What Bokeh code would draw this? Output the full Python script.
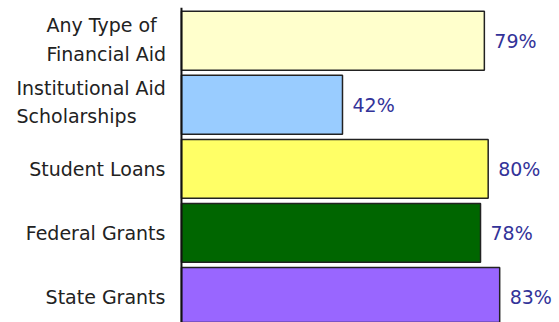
from bokeh.plotting import figure
from bokeh.models import ColumnDataSource, Range1d, Span
from bokeh.core.properties import value
from bokeh.embed import file_html
from bokeh.resources import INLINE

categories = ["Any Type of\nFinancial Aid", "Institutional Aid\nScholarships",
              "Student Loans", "Federal Grants", "State Grants"]
values = [79, 42, 80, 78, 83]
value_labels = ["79%", "42%", "80%", "78%", "83%"]
colors = ["#FFFFCC", "#99CCFF", "#FFFF66", "#006600", "#9966FF"]

# label styling: multi-line labels are left-aligned blocks, others right-aligned
block_left = {0: -135, 1: -165}
block_dy = {0: -1, 1: -3}

pos = list(range(len(categories)))
aligns = ["left" if "\n" in c else "right" for c in categories]
xoffs = [block_left.get(i, -16) for i in pos]
yoffs = [block_dy.get(i, 0) for i in pos]

src = ColumnDataSource(dict(y=pos, v=values, cat=categories, lab=value_labels,
                            color=colors, zero=[0] * len(pos),
                            align=aligns, xoff=xoffs, yoff=yoffs))

p = figure(width=559, height=322, output_backend="svg", toolbar_location=None,
           x_range=Range1d(-47.2, 98.6), y_range=Range1d(4.40, -0.52),
           min_border_left=0, min_border_right=0, min_border_top=7, min_border_bottom=0)
p.outline_line_color = None
p.xgrid.grid_line_color = None
p.ygrid.grid_line_color = None
p.xaxis.visible = False
p.yaxis.visible = False

p.hbar(y="y", left=0, right="v", height=0.92, fill_color="color",
       line_color="#222222", line_width=1.5, source=src)
p.add_layout(Span(location=0, dimension="height", line_color="#111111", line_width=2))

font = value("DejaVu Sans")
p.text(x="v", y="y", text="lab", x_offset=10, text_align="left",
       text_baseline="middle", text_color="#333399", text_font=font,
       text_font_size="19px", source=src)
p.text(x="zero", y="y", text="cat", x_offset="xoff", y_offset="yoff", text_align="align",
       text_baseline="middle", text_color="#222222", text_font=font,
       text_font_size="19px", text_line_height=1.3, source=src)

open("out.html", "w").write(file_html(p, INLINE))
